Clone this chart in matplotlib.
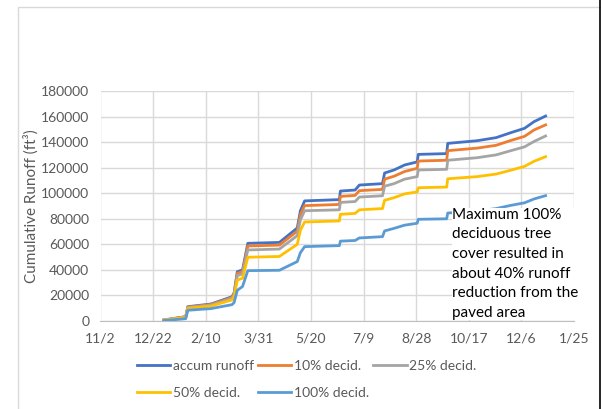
import datetime as dt
import matplotlib
matplotlib.use("Agg")
import matplotlib.pyplot as plt
import matplotlib.dates as mdates
from matplotlib.patches import Rectangle
from matplotlib.lines import Line2D

plt.rcParams['font.family'] = ['Lato', 'DejaVu Sans']

# dates of the readings (2016)
dates = ["01-01", "01-22", "01-24", "02-15", "03-06", "03-08", "03-11", "03-16",
         "03-21", "04-20", "05-07", "05-10", "05-14", "06-16", "06-17", "07-01",
         "07-05", "07-27", "07-29", "08-07", "08-17", "08-29", "08-30", "09-26",
         "09-27", "10-25", "11-12", "11-26", "12-09", "12-18", "12-29"]

accum = [800, 3400, 11200, 13300, 19000, 22000, 38600, 40000,
         60800, 61500, 72800, 86300, 94000, 95000, 101700, 102500,
         106400, 107500, 115800, 118200, 122100, 124500, 130400, 131000,
         139000, 141100, 143500, 147400, 150800, 156000, 160400]
decid10 = [700, 3300, 10900, 12900, 18400, 21300, 37300, 38700,
           58700, 59400, 70300, 83300, 90300, 91200, 97500, 98300,
           102000, 103000, 111000, 113300, 117000, 119500, 125200, 125800,
           133300, 135300, 137500, 141300, 144500, 149500, 153500]
decid25 = [650, 3100, 10500, 12400, 17700, 20500, 35500, 36900,
           55600, 56300, 66800, 79200, 86300, 87000, 92800, 93500,
           97000, 98000, 105500, 107500, 111000, 113000, 118200, 118700,
           125800, 127800, 130000, 133300, 136300, 140500, 144800]
decid50 = [600, 2900, 9900, 11700, 16500, 19000, 32000, 33500,
           49900, 50500, 60000, 71000, 77500, 78300, 83500, 84200,
           87000, 88000, 94500, 96500, 99500, 101000, 104300, 104800,
           111300, 113000, 115000, 118000, 121000, 125000, 128600]
decid100 = [300, 1800, 8400, 9700, 12800, 14500, 24000, 27000,
            39400, 39700, 46500, 53500, 58200, 59000, 62500, 63000,
            65000, 66000, 70500, 72500, 75000, 76500, 79600, 80000,
            84500, 86000, 88000, 90500, 92500, 95500, 98100]

names = ["accum runoff", "10% decid.", "25% decid.", "50% decid.", "100% decid."]
colors = ["#4472C4", "#ED7D31", "#A5A5A5", "#FFC000", "#5B9BD5"]

x = [dt.date(2016, int(d[:2]), int(d[3:])) for d in dates]

fig = plt.figure(figsize=(6.01, 4.09), dpi=100)
ax = fig.add_axes([100.5 / 601, 1 - 321 / 409, 473.5 / 601, 230 / 409])

# outer chart border
fig.patches.append(Rectangle((18 / 601, -0.1), 1.2, 1 - 7 / 409 + 0.1,
                             transform=fig.transFigure, fill=False,
                             edgecolor="#D9D9D9", linewidth=1))
fig.lines.append(Line2D([599.5 / 601, 599.5 / 601], [0, 1],
                        transform=fig.transFigure, color="black", linewidth=1.2))

handles = []
for vals, name, c in zip([accum, decid10, decid25, decid50, decid100], names, colors):
    h, = ax.plot(x, vals, color=c, linewidth=2.0, label=name, zorder=3)
    handles.append(h)

start = dt.date(2015, 11, 2)
ticks = [start + dt.timedelta(days=50 * i) for i in range(10)]
ax.set_xlim(mdates.date2num(ticks[0]), mdates.date2num(ticks[-1]))
ax.set_xticks(mdates.date2num(ticks))
ax.set_xticklabels([f"{t.month}/{t.day}" for t in ticks])
ax.set_ylim(0, 180000)
ax.set_yticks(range(0, 180001, 20000))

ax.grid(True, color="#D9D9D9", linewidth=1)
ax.set_axisbelow(True)
for s in ["top", "right", "left"]:
    ax.spines[s].set_visible(False)
ax.spines["bottom"].set_color("#BFBFBF")
ax.tick_params(length=0, labelsize=10, colors="#595959", pad=8)
ax.set_ylabel("Cumulative Runoff (ft³)", fontsize=11, color="#595959", labelpad=2)

ax.text(452 / 601, 1 - 208 / 409,
        "Maximum 100%\ndeciduous tree\ncover resulted in\nabout 40% runoff\nreduction from the\npaved area",
        transform=fig.transFigure, fontsize=11, color="black", va="top", ha="left",
        linespacing=1.5, zorder=5,
        bbox=dict(facecolor="white", edgecolor="none", pad=0))

order = [0, 3, 1, 4, 2]
fig.legend([handles[i] for i in order], [names[i] for i in order],
           loc="upper left", bbox_to_anchor=(124 / 601, 1 - 347 / 409), ncol=3,
           frameon=False, fontsize=10, handlelength=2.4, handletextpad=0.2,
           columnspacing=0.3, labelspacing=1.1, labelcolor="#595959")

fig.savefig("out.png", dpi=100)
